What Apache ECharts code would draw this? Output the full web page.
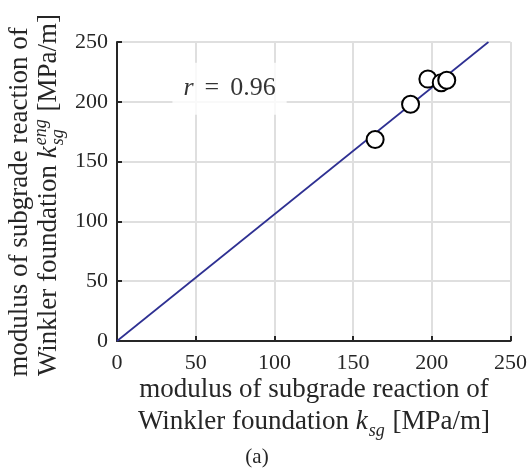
<!DOCTYPE html>
<html>
<head>
<meta charset="utf-8">
<script src="https://cdn.jsdelivr.net/npm/echarts@6/dist/echarts.min.js"></script>
<style>
  html, body { margin: 0; padding: 0; background: #fff; }
  #chart { width: 530px; height: 470px; }
</style>
</head>
<body>
<div id="chart"></div>
<script>
// measured points (k_sg, k_sg^eng)
const kSg = [164, 186.5, 197.5, 206, 209.5];
const kSgEng = [168.5, 198, 219, 216, 218];
// fitted line end points
const fitX = [0, 236];
const fitY = [0, 250];
const xTicks = [0, 250, 50];
const yTicks = [0, 250, 50];
const rLabel = '0.96';
const rPos = [71.5, 211];

const FONT = 'Liberation Serif';
const INK = '#262626';
const TITLE_SIZE = 27;
const SMALL_SIZE = 18;

const chart = echarts.init(document.getElementById('chart'));

// text measuring for the hand-built axis titles
const ctx = document.createElement('canvas').getContext('2d');
function tw(text, size, italic) {
  ctx.font = (italic ? 'italic ' : '') + size + 'px "' + FONT + '"';
  return ctx.measureText(text).width;
}

// pieces: {t, it} or {sub, sup} (stacked, small italic)
function titleLine(pieces, size, cx, baseline) {
  const widths = pieces.map(p => {
    if (p.t !== undefined) return tw(p.t, size, p.it);
    return Math.max(p.sub ? tw(p.sub, SMALL_SIZE, true) : 0, p.sup ? tw(p.sup, SMALL_SIZE, true) : 0) + 2;
  });
  const total = widths.reduce((a, b) => a + b, 0);
  let x = cx - total / 2;
  const out = [];
  const txt = (text, px, base, sz, it) => {
    const style = {
      text: text, x: px, y: base - Math.round(0.3 * sz),
      fontFamily: FONT, fontSize: sz,
      fill: INK, align: 'left', verticalAlign: 'middle'
    };
    if (it) style.fontStyle = 'italic';
    return { type: 'text', style: style };
  };
  pieces.forEach((p, i) => {
    if (p.t !== undefined) {
      out.push(txt(p.t, x, baseline, size, p.it));
    } else {
      if (p.sub) out.push(txt(p.sub, x + 1, baseline + 6, SMALL_SIZE, true));
      if (p.sup) out.push(txt(p.sup, x + 1, baseline - 11, SMALL_SIZE, true));
    }
    x += widths[i];
  });
  return out;
}

const xTitle = [
  ...titleLine([{ t: 'modulus of subgrade reaction of' }], TITLE_SIZE, 314, 398),
  ...titleLine([{ t: 'Winkler foundation ' }, { t: 'k', it: true }, { sub: 'sg' }, { t: ' [MPa/m]' }], TITLE_SIZE, 314, 430)
];
// rotated group: local x runs upward, local y runs to the right
const yTitle = [
  ...titleLine([{ t: 'modulus of subgrade reaction of' }], TITLE_SIZE, -11, 28),
  ...titleLine([{ t: 'Winkler foundation ' }, { t: 'k', it: true }, { sub: 'sg', sup: 'eng' }, { t: ' [MPa/m]' }], TITLE_SIZE, -4, 57)
];

const axisCommon = {
  type: 'value',
  axisLine: { show: true, lineStyle: { color: INK, width: 2 } },
  axisTick: { show: true, inside: true, length: 5, lineStyle: { color: INK, width: 2 } },
  splitLine: { show: true, lineStyle: { color: '#dfdfdf', width: 2 } }
};

const option = {
  animation: false,
  grid: { left: 117, right: 16, top: 42, bottom: 129, containLabel: false },
  xAxis: Object.assign({}, axisCommon, {
    min: xTicks[0], max: xTicks[1], interval: xTicks[2],
    axisLabel: { color: INK, fontFamily: FONT, fontSize: 22, margin: 11 }
  }),
  yAxis: Object.assign({}, axisCommon, {
    min: yTicks[0], max: yTicks[1], interval: yTicks[2],
    axisLabel: { color: INK, fontFamily: FONT, fontSize: 22, margin: 9 }
  }),
  series: [
    {
      type: 'line',
      data: fitX.map((x, i) => [x, fitY[i]]),
      symbol: 'none',
      lineStyle: { color: '#2e3092', width: 1.7 },
      z: 2
    },
    {
      type: 'scatter',
      data: kSg.map((x, i) => [x, kSgEng[i]]),
      symbol: 'circle',
      symbolSize: 17,
      itemStyle: { color: '#ffffff', borderColor: '#000000', borderWidth: 2, opacity: 1 },
      z: 3
    },
    {
      type: 'scatter',
      data: [rPos],
      symbolSize: 0,
      silent: true,
      label: {
        show: true,
        position: 'inside',
        formatter: '{i|r}{eq|=}' + rLabel,
        color: '#000',
        fontFamily: FONT,
        fontSize: 26,
        backgroundColor: '#ffffff',
        padding: [13, 11, 13, 11],
        rich: {
          i: { fontFamily: FONT, fontSize: 26, fontStyle: 'italic', color: '#000' },
          eq: { fontFamily: FONT, fontSize: 26, color: '#000', padding: [0, 11, 0, 11] }
        }
      },
      z: 4
    }
  ],
  graphic: [
    { type: 'group', children: xTitle },
    { type: 'group', x: 0, y: 191, rotation: Math.PI / 2, children: yTitle },
    {
      type: 'text',
      style: { text: '(a)', x: 257, y: 457, fontFamily: FONT, fontSize: 21, fill: INK, align: 'center', verticalAlign: 'middle' }
    }
  ]
};

chart.setOption(option);
</script>
</body>
</html>
